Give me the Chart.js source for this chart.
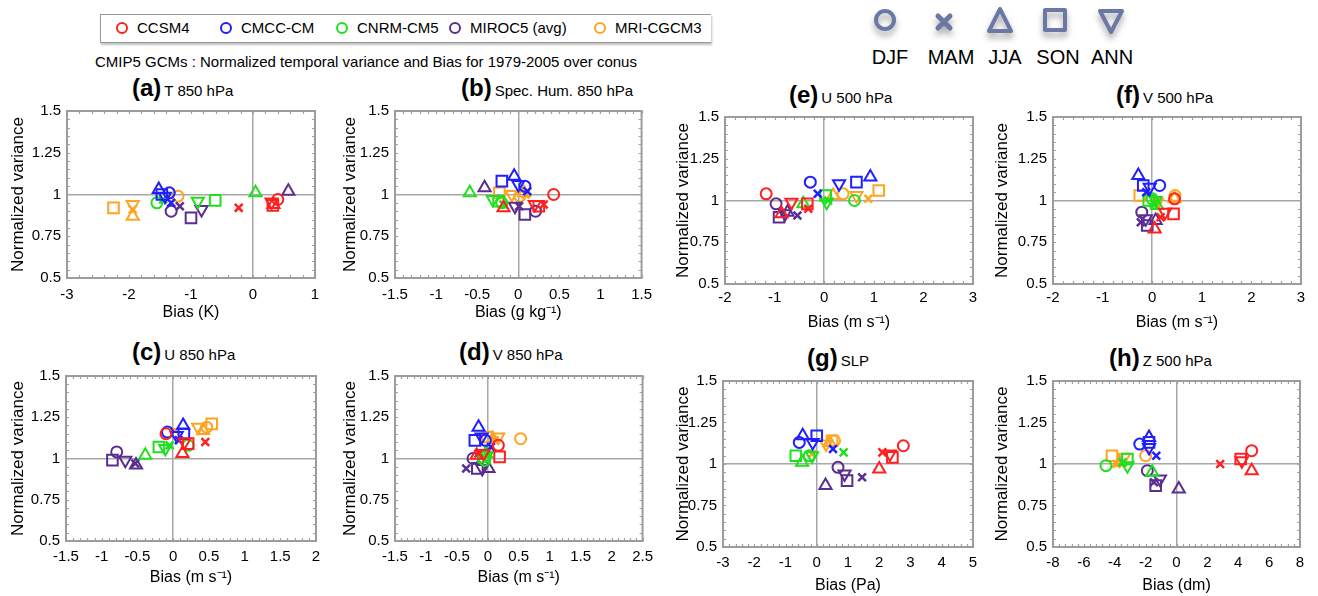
<!doctype html>
<html lang="en">
<head>
<meta charset="utf-8">
<title>CMIP5 GCMs : Normalized temporal variance and Bias</title>
<script src="https://cdn.jsdelivr.net/npm/chart.js"></script>
<style>
  body { margin: 0; width: 1318px; height: 596px; background: #fff; position: relative; overflow: hidden;
         font-family: "Liberation Sans", Arial, sans-serif; color: #000; }
  canvas { position: absolute; }
  .abs { position: absolute; white-space: nowrap; }
  .ptitle { font-size: 15px; line-height: 30px; height: 30px; }
  .ptitle b { font-size: 24px; margin-right: 3px; }
  .legbox { left: 100px; top: 14px; width: 610px; height: 27px; border: 1px solid #999; border-right: none;
            box-shadow: 1px 2px 2px rgba(0,0,0,0.25); }
  .mleg { font-size: 15px; line-height: 16px; top: 20px; }
  .sleg { font-size: 20px; line-height: 22px; top: 46px; transform: translateX(-50%); }
</style>
</head>
<body>

<div class="abs legbox"></div>
<svg class="abs" style="left:0;top:0" width="720" height="50" id="mlegSym"></svg>
<div id="mlegText"></div>
<div class="abs" style="left:95px;top:53px;font-size:15px;line-height:18px">CMIP5 GCMs : Normalized temporal variance and Bias for 1979-2005 over conus</div>

<svg class="abs" style="left:860px;top:0;filter:drop-shadow(0 5px 3px rgba(0,0,0,0.35))" width="300" height="45">
  <g fill="none" stroke="#6b78a6" stroke-width="4" stroke-linejoin="round" stroke-linecap="round">
    <circle cx="25" cy="20" r="9"/>
    <path d="M78 16 L90 28 M90 16 L78 28" stroke-width="5"/>
    <path d="M140 9 L151 31 L129 31 Z"/>
    <rect x="185" y="10" width="20" height="20"/>
    <path d="M240 11 L262 11 L251 32 Z"/>
  </g>
</svg>
<div id="slegText"></div>

<div class="abs ptitle" style="left:132px;top:73px"><b>(a)</b>T 850 hPa</div>
<div class="abs ptitle" style="left:461px;top:73px"><b>(b)</b>Spec. Hum. 850 hPa</div>
<div class="abs ptitle" style="left:789px;top:80px"><b>(e)</b>U 500 hPa</div>
<div class="abs ptitle" style="left:1116px;top:80px"><b>(f)</b>V 500 hPa</div>
<div class="abs ptitle" style="left:132px;top:337px"><b>(c)</b>U 850 hPa</div>
<div class="abs ptitle" style="left:459px;top:337px"><b>(d)</b>V 850 hPa</div>
<div class="abs ptitle" style="left:807px;top:343px"><b>(g)</b>SLP</div>
<div class="abs ptitle" style="left:1109px;top:343px"><b>(h)</b>Z 500 hPa</div>

<script>
// models (rows) and seasons (columns) used in every panel
const models = ['CCSM4', 'CMCC-CM', 'CNRM-CM5', 'MIROC5 (avg)', 'MRI-CGCM3'];
const modelColors = ['#ff1f1f', '#1f1fff', '#1fe01f', '#5a2d91', '#ffa41f'];
const seasons = ['DJF', 'MAM', 'JJA', 'SON', 'ANN'];

// (a) T 850 hPa
const biasT850 = [
  [0.40, -0.23, 0.33, 0.32, 0.30],
  [-1.35, -1.32, -1.52, -1.47, -1.42],
  [-1.55, -1.45, 0.04, -0.61, -0.89],
  [-1.32, -1.18, 0.57, -1.00, -0.83],
  [-1.21, -1.94, -1.94, -2.25, -1.94]
];
const varT850 = [
  [0.97, 0.92, 0.94, 0.935, 0.955],
  [1.01, 0.95, 1.03, 1.00, 0.99],
  [0.95, 0.97, 1.01, 0.965, 0.96],
  [0.90, 0.93, 1.02, 0.86, 0.91],
  [0.99, 0.91, 0.87, 0.92, 0.94]
];
// (b) Spec. Hum. 850 hPa
const biasQ850 = [
  [0.43, 0.31, -0.18, 0.25, 0.20],
  [0.08, 0.11, -0.05, -0.20, 0.00],
  [-0.20, -0.18, -0.59, -0.24, -0.31],
  [0.21, 0.01, -0.41, 0.08, -0.04],
  [0.02, 0.09, 0.07, -0.23, -0.08]
];
const varQ850 = [
  [1.00, 0.94, 0.92, 0.93, 0.94],
  [1.05, 1.02, 1.11, 1.08, 1.06],
  [0.95, 0.94, 1.01, 0.96, 0.97],
  [0.90, 0.93, 1.04, 0.88, 0.93],
  [0.99, 1.00, 1.01, 1.01, 1.00]
];
// (c) U 850 hPa
const biasU850 = [
  [-0.10, 0.45, 0.13, 0.21, 0.16],
  [-0.08, 0.08, 0.14, 0.15, 0.05],
  [0.21, -0.05, -0.39, -0.20, -0.11],
  [-0.79, -0.53, -0.52, -0.85, -0.67],
  [0.47, 0.03, 0.42, 0.54, 0.35]
];
const varU850 = [
  [1.15, 1.10, 1.03, 1.09, 1.10],
  [1.16, 1.11, 1.20, 1.15, 1.14],
  [1.08, 1.08, 1.02, 1.07, 1.06],
  [1.04, 0.97, 0.96, 0.99, 0.99],
  [1.19, 1.17, 1.17, 1.21, 1.19]
];
// (d) V 850 hPa
const biasV850 = [
  [0.17, -0.15, -0.18, 0.19, -0.07],
  [-0.04, 0.05, -0.15, -0.21, -0.10],
  [-0.05, 0.01, -0.03, -0.07, -0.02],
  [-0.24, -0.35, 0.01, -0.17, -0.09],
  [0.53, 0.11, 0.08, -0.01, 0.17]
];
const varV850 = [
  [1.08, 1.03, 1.02, 1.01, 1.03],
  [1.11, 1.07, 1.19, 1.11, 1.13],
  [0.99, 1.05, 1.03, 1.01, 1.02],
  [1.00, 0.94, 0.94, 0.94, 0.94],
  [1.12, 1.11, 1.12, 1.13, 1.13]
];
// (e) U 500 hPa
const biasU500 = [
  [-1.17, -0.32, -0.86, -0.34, -0.66],
  [-0.28, -0.13, 0.93, 0.65, 0.30],
  [0.61, 0.08, -0.42, 0.03, 0.05],
  [-0.97, -0.54, -0.74, -0.91, -0.79],
  [0.38, 0.89, 0.18, 1.10, 0.65]
];
const varU500 = [
  [1.04, 0.95, 0.92, 0.98, 0.99],
  [1.11, 1.04, 1.14, 1.11, 1.10],
  [1.00, 1.00, 0.98, 1.03, 0.99],
  [0.98, 0.91, 0.93, 0.90, 0.92],
  [1.04, 1.01, 1.03, 1.06, 1.03]
];
// (f) V 500 hPa
const biasV500 = [
  [0.45, 0.17, 0.05, 0.43, 0.26],
  [0.15, -0.12, -0.28, -0.18, -0.05],
  [0.00, 0.03, 0.10, -0.07, 0.07],
  [-0.21, -0.23, 0.07, -0.10, -0.13],
  [0.46, 0.08, 0.45, -0.25, 0.10]
];
const varV500 = [
  [1.01, 0.90, 0.83, 0.92, 0.93],
  [1.09, 1.05, 1.15, 1.09, 1.08],
  [1.01, 0.98, 0.97, 1.00, 1.00],
  [0.93, 0.87, 0.88, 0.85, 0.89],
  [1.03, 0.98, 1.01, 1.03, 0.99]
];
// (g) SLP
const biasSLP = [
  [2.77, 2.10, 2.00, 2.42, 2.34],
  [-0.56, 0.52, -0.45, 0.00, -0.13],
  [-0.24, 0.86, -0.47, -0.67, -0.15],
  [0.68, 1.45, 0.28, 0.97, 0.89],
  [0.57, -0.15, 0.41, 0.49, 0.30]
];
const varSLP = [
  [1.11, 1.07, 0.97, 1.04, 1.06],
  [1.13, 1.09, 1.17, 1.17, 1.13],
  [1.05, 1.07, 1.01, 1.05, 1.05],
  [0.98, 0.92, 0.87, 0.90, 0.94],
  [1.14, 1.06, 1.13, 1.14, 1.12]
];
// (h) Z 500 hPa
const biasZ500 = [
  [4.87, 2.83, 4.87, 4.16, 4.23],
  [-2.38, -1.31, -1.78, -1.78, -1.78],
  [-4.57, -3.50, -1.57, -3.18, -3.18],
  [-1.89, -1.46, 0.15, -1.35, -1.07],
  [-2.00, -3.88, -3.70, -4.18, -3.39]
];
const varZ500 = [
  [1.08, 1.00, 0.96, 1.03, 1.02],
  [1.12, 1.05, 1.16, 1.13, 1.10],
  [0.99, 1.01, 0.95, 1.03, 0.99],
  [0.96, 0.89, 0.85, 0.87, 0.91],
  [1.05, 1.00, 1.01, 1.05, 1.04]
];

// x axis ticks [min, max, step] for each panel
const ticksA = [-3, 1, 1];
const ticksB = [-1.5, 1.5, 0.5];
const ticksC = [-1.5, 2, 0.5];
const ticksD = [-1.5, 2.5, 0.5];
const ticksE = [-2, 3, 1];
const ticksF = [-2, 3, 1];
const ticksG = [-3, 5, 1];
const ticksH = [-8, 8, 2];

// marker per season: circle, x, triangle, square, inverted triangle
const seasonStyle = ['circle', 'crossRot', 'triangle', 'rect', 'triangle'];
const seasonRot = [0, 0, 0, 0, 180];
const seasonRadius = [5.5, 5.5, 7, 7.5, 7];
const seasonBorder = [2, 2.5, 2, 2, 2];

// top legends
(function () {
  const svg = document.getElementById('mlegSym');
  const cx = [122, 226, 342, 455, 600];
  let s = '';
  models.forEach((m, i) => {
    s += '<circle cx="' + cx[i] + '" cy="28" r="5" fill="none" stroke="' + modelColors[i] + '" stroke-width="2"/>';
    const d = document.createElement('div');
    d.className = 'abs mleg';
    d.style.left = (cx[i] + 15) + 'px';
    d.textContent = m;
    document.getElementById('mlegText').appendChild(d);
  });
  svg.innerHTML = s;
  const sx = [890, 951, 1005, 1058, 1112];
  seasons.forEach((t, i) => {
    const d = document.createElement('div');
    d.className = 'abs sleg';
    d.style.left = sx[i] + 'px';
    d.textContent = t;
    document.getElementById('slegText').appendChild(d);
  });
})();

const framePlugin = {
  id: 'frame',
  beforeDatasetsDraw(chart) {
    const {ctx, chartArea: a, scales: {x, y}} = chart;
    const minor = chart.options.plugins.frame.xMinor;
    ctx.save();
    ctx.strokeStyle = '#a0a0a0';
    ctx.lineWidth = 1.2;
    ctx.beginPath();
    for (let v = x.min; v <= x.max + 1e-9; v += minor) {
      const p = Math.round(x.getPixelForValue(v)) + 0.5;
      ctx.moveTo(p, a.top); ctx.lineTo(p, a.top + 3);
      ctx.moveTo(p, a.bottom); ctx.lineTo(p, a.bottom - 3);
    }
    for (let v = y.min; v <= y.max + 1e-9; v += 0.05) {
      const p = Math.round(y.getPixelForValue(v)) + 0.5;
      ctx.moveTo(a.left, p); ctx.lineTo(a.left + 3, p);
      ctx.moveTo(a.right, p); ctx.lineTo(a.right - 3, p);
    }
    ctx.stroke();
    ctx.lineWidth = 2;
    ctx.strokeStyle = '#9c9c9c';
    ctx.strokeRect(a.left, a.top, a.right - a.left, a.bottom - a.top);
    ctx.restore();
  }
};

const plainNum = v => String(Math.round(v * 1000) / 1000);

function makePanel(p) {
  const padTop = 12, padRight = 14;
  const cv = document.createElement('canvas');
  cv.width = p.yw + p.w + padRight;
  cv.height = padTop + p.h + p.xh;
  cv.style.left = (p.left - p.yw) + 'px';
  cv.style.top = (p.top - padTop) + 'px';
  document.body.appendChild(cv);
  const datasets = models.map((m, i) => ({
    label: m,
    data: p.bias[i].map((b, j) => ({x: b, y: p.vari[i][j]})),
    borderColor: modelColors[i],
    backgroundColor: 'rgba(0,0,0,0)',
    pointStyle: seasonStyle,
    pointRotation: seasonRot,
    pointRadius: seasonRadius,
    pointBorderWidth: seasonBorder
  }));
  new Chart(cv, {
    type: 'scatter',
    data: {datasets: datasets},
    plugins: [framePlugin],
    options: {
      responsive: false,
      animation: false,
      devicePixelRatio: 1,
      layout: {padding: {top: padTop, right: padRight, left: 0, bottom: 0}},
      plugins: {legend: {display: false}, tooltip: {enabled: false}, frame: {xMinor: p.ticks[2] / 5}},
      scales: {
        x: {
          min: p.ticks[0], max: p.ticks[1],
          ticks: {stepSize: p.ticks[2], color: '#000', padding: p.tp, maxRotation: 0, autoSkip: false,
                  callback: plainNum, font: {family: 'Liberation Sans', size: 15}},
          grid: {drawTicks: false, lineWidth: 1.5,
                 color: c => (c.tick && Math.abs(c.tick.value) < 1e-9) ? '#a8a8a8' : 'rgba(0,0,0,0)'},
          border: {display: false},
          title: {display: true, text: p.xlabel, color: '#000', padding: {top: 4, bottom: 4},
                  font: {family: 'Liberation Sans', size: 16}},
          afterFit: s => { s.height = p.xh; }
        },
        y: {
          min: 0.5, max: 1.5,
          ticks: {stepSize: 0.25, color: '#000', padding: 6, callback: plainNum,
                  font: {family: 'Liberation Sans', size: 15}},
          grid: {drawTicks: false, lineWidth: 1.5,
                 color: c => (c.tick && Math.abs(c.tick.value - 1) < 1e-9) ? '#a8a8a8' : 'rgba(0,0,0,0)'},
          border: {display: false},
          title: {display: true, text: 'Normalized variance', color: '#000', padding: {top: 4, bottom: 4},
                  font: {family: 'Liberation Sans', size: 17}},
          afterFit: s => { s.width = p.yw; }
        }
      }
    }
  });
}

const panels = [
  {bias: biasT850, vari: varT850, ticks: ticksA, xlabel: 'Bias (K)',        left: 67,   top: 108, w: 248, h: 170, yw: 63, xh: 48, tp: 8},
  {bias: biasQ850, vari: varQ850, ticks: ticksB, xlabel: 'Bias (g kg⁻¹)',   left: 395,  top: 108, w: 251, h: 170, yw: 59, xh: 48, tp: 8},
  {bias: biasU500, vari: varU500, ticks: ticksE, xlabel: 'Bias (m s⁻¹)',    left: 725,  top: 114, w: 248, h: 170, yw: 56, xh: 52, tp: 5},
  {bias: biasV500, vari: varV500, ticks: ticksF, xlabel: 'Bias (m s⁻¹)',    left: 1053, top: 114, w: 248, h: 170, yw: 65, xh: 52, tp: 5},
  {bias: biasU850, vari: varU850, ticks: ticksC, xlabel: 'Bias (m s⁻¹)',    left: 66,   top: 373, w: 250, h: 168, yw: 62, xh: 50, tp: 7},
  {bias: biasV850, vari: varV850, ticks: ticksD, xlabel: 'Bias (m s⁻¹)',    left: 395,  top: 373, w: 251, h: 168, yw: 59, xh: 50, tp: 7},
  {bias: biasSLP,  vari: varSLP,  ticks: ticksG, xlabel: 'Bias (Pa)',       left: 723,  top: 378, w: 250, h: 169, yw: 54, xh: 52, tp: 7},
  {bias: biasZ500, vari: varZ500, ticks: ticksH, xlabel: 'Bias (dm)',       left: 1053, top: 378, w: 247, h: 169, yw: 65, xh: 52, tp: 7}
];
panels.forEach(makePanel);
</script>
</body>
</html>
